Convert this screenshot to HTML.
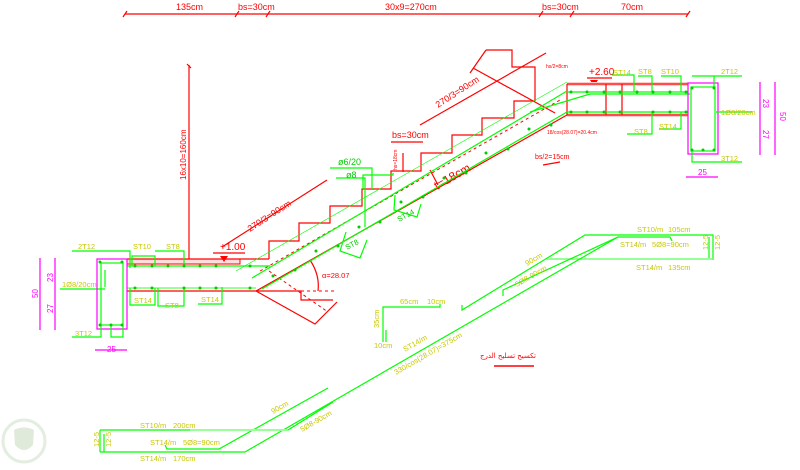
<!DOCTYPE html>
<html><head><meta charset="utf-8"><style>
html,body{margin:0;padding:0;background:#fff;}
svg{display:block;font-family:"Liberation Sans","Noto Sans CJK SC",sans-serif;}
.r{stroke:#f00;fill:none;stroke-width:1.2}
.g{stroke:#0f0;fill:none;stroke-width:1.2}
.m{stroke:#f0f;fill:none;stroke-width:1.2}
.rd{stroke:#f00;fill:none;stroke-width:1;stroke-dasharray:3,3}
.tr{fill:#f00;font-size:9px}
.ty{fill:#c8c800;font-size:7.5px}
.tg{fill:#0c0;font-size:7.5px}
.tm{fill:#f0f;font-size:8px}
.dot{fill:#0c0}
</style></head><body>
<svg width="800" height="470" viewBox="0 0 800 470">
<!-- top dimension -->
<line x1="125" y1="14" x2="688" y2="14" class="r"/>
<g class="r"><path d="M123,17l4,-6M235,17l4,-6M266,17l4,-6M539,17l4,-6M570,17l4,-6M686,17l4,-6"/></g>
<text x="176" y="10" class="tr">135cm</text>
<text x="238" y="10" class="tr">bs=30cm</text>
<text x="385" y="10" class="tr">30x9=270cm</text>
<text x="542" y="10" class="tr">bs=30cm</text>
<text x="621" y="10" class="tr">70cm</text>
<!-- vertical dim -->
<line x1="189" y1="65" x2="189" y2="262" class="r"/>
<path d="M187,64l4,4" class="r"/>
<text transform="translate(186,180) rotate(-90)" class="tr" style="font-size:8px">16x10=160cm</text>

<!-- lower landing -->
<rect x="127" y="259" width="113" height="5" fill="#fdd" stroke="#f00" stroke-width="1"/>
<line x1="127" y1="259" x2="269" y2="259" class="r"/>
<line x1="127" y1="291" x2="256" y2="291" class="r"/>
<!-- stairs -->
<polyline class="r" points="269,259 269,241 299,241 299,223 330,223 330,206 362,206 362,189 391,189 391,171 421,171 421,153 452,153 452,135 482,135 482,118 514,118 514,101 535,101"/>
<polyline class="r" points="486,50 512,50 512,67 535,67 535,101"/>
<line x1="473" y1="68" x2="555" y2="113" class="r"/>
<line x1="470" y1="73" x2="486" y2="50" class="r"/>
<line x1="420" y1="125" x2="546" y2="53" class="r"/>
<line x1="256" y1="291" x2="567" y2="115" class="r"/>
<line x1="260" y1="271" x2="560" y2="100" class="rd"/>
<!-- start detail -->
<polyline class="r" points="256,291 301,291 301,300 333,300"/>
<polyline class="r" points="256,291 315,324 337,302"/>
<line x1="269" y1="271" x2="328" y2="312" class="rd"/>
<line x1="301" y1="291" x2="334" y2="291" class="rd"/>
<path d="M310,260 Q320,275 318,291" class="r"/>
<!-- dimension 270/3 -->
<line x1="222" y1="247" x2="327" y2="180" class="r"/>
<text transform="translate(250,232) rotate(-33)" class="tr">270/3=90cm</text>
<text transform="translate(438,108) rotate(-33)" class="tr">270/3=90cm</text>
<line x1="391" y1="142" x2="423" y2="142" class="r"/>
<text x="392" y="138" class="tr">bs=30cm</text>
<text transform="translate(397,170) rotate(-90)" class="tr" style="font-size:5px">hs=18cm</text>
<line x1="403" y1="153" x2="403" y2="172" class="r"/>
<text transform="translate(437,190) rotate(-30)" class="tr" style="font-size:12px">t=18cm</text>
<line x1="430" y1="170" x2="438" y2="185" class="r"/>
<text x="322" y="278" class="tr" style="font-size:7.5px">α=28.07</text>
<!-- +1.00 -->
<text x="220" y="250" class="tr" style="font-size:10px">+1.00</text>
<path d="M220,256 L228,256 L224,262Z" fill="#f00"/>
<line x1="213" y1="253" x2="245" y2="253" class="r"/>
<!-- +2.60 -->
<text x="589" y="75" class="tr" style="font-size:10px">+2.60</text>
<path d="M590,80 L598,80 L594,86Z" fill="#f00"/>
<line x1="587" y1="78" x2="612" y2="78" class="r"/>
<text x="546" y="68" class="tr" style="font-size:5px">hs/2=8cm</text>
<text x="547" y="134" class="tr" style="font-size:5px">18/cos(28.07)=20.4cm</text>
<text x="535" y="159" class="tr" style="font-size:7px">bs/2=15cm</text>
<line x1="543" y1="165" x2="560" y2="162" class="r"/>
<!-- upper landing -->
<rect x="567" y="82" width="121" height="4" fill="#fcc"/>
<rect x="567" y="113" width="121" height="4" fill="#fcc"/>
<line x1="567" y1="84" x2="688" y2="84" class="r"/>
<line x1="567" y1="115" x2="688" y2="115" class="r"/>
<line x1="567" y1="84" x2="567" y2="115" class="r"/>
<line x1="606" y1="84" x2="606" y2="115" class="r"/>
<line x1="622" y1="84" x2="622" y2="115" class="r"/>

<!-- green bars in flight -->
<line class="g" x1="252" y1="278" x2="567" y2="91"/>
<line class="g" x1="262" y1="289" x2="567" y2="112"/>
<line class="g" x1="236" y1="271" x2="567" y2="82" style="stroke-width:0.6"/>
<polyline class="g" points="363,189 363,175 393,175 393,173"/>
<polyline class="g" points="330,168 372,168 372,189"/>
<polyline class="g" points="336,178 365,178 365,227"/>
<polyline class="g" points="395,195 394,210 417,217 421,204"/>
<polyline class="g" points="346,232 340,251 360,258 367,240"/>
<!-- lower landing green -->
<line class="g" x1="127" y1="266" x2="270" y2="266"/>
<line class="g" x1="127" y1="288" x2="256" y2="288" style="stroke-width:2;stroke:#9f9"/>
<polyline class="g" points="132,266 132,256 155,256 155,266"/>
<polyline class="g" points="72,251 130,251 130,268"/>
<polyline class="g" points="155,251 184,251 184,266"/>
<polyline class="g" points="130,288 130,305 155,305 155,288"/>
<polyline class="g" points="158,288 158,306 184,306 184,288"/>
<polyline class="g" points="198,304 222,304 222,287"/>
<line class="g" x1="60" y1="289" x2="105" y2="289"/>
<!-- left beam -->
<rect x="97" y="259" width="30" height="70" class="m"/>
<rect x="101" y="263" width="22" height="62" class="g"/>
<line class="g" x1="105" y1="270" x2="105" y2="287"/>
<polyline class="g" points="72,337 101,337 101,325"/>
<polyline class="g" points="111,325 111,337 123,337 123,325"/>
<line class="m" x1="95" y1="350" x2="127" y2="350"/>
<text x="107" y="352" class="tm">25</text>
<line class="m" x1="40" y1="258" x2="40" y2="330"/>
<line class="m" x1="55" y1="258" x2="55" y2="330"/>
<text transform="translate(38,298) rotate(-90)" class="tm">50</text>
<text transform="translate(53,282) rotate(-90)" class="tm">23</text>
<text transform="translate(53,313) rotate(-90)" class="tm">27</text>
<text x="78" y="249" class="ty">2T12</text>
<text x="133" y="249" class="ty">ST10</text>
<text x="166" y="249" class="ty">ST8</text>
<text x="62" y="287" class="ty">1Ø8/20cm</text>
<text x="134" y="303" class="ty">ST14</text>
<text x="165" y="308" class="ty">ST8</text>
<text x="201" y="302" class="ty">ST14</text>
<text x="75" y="336" class="ty">3T12</text>
<!-- right landing green -->
<line class="g" x1="567" y1="92" x2="688" y2="92"/>
<line class="g" x1="567" y1="112" x2="688" y2="112"/>
<polyline class="g" points="530,112 590,94 690,94"/>
<polyline class="g" points="612,75 634,75 634,92"/>
<polyline class="g" points="638,76 652,76 652,92"/>
<polyline class="g" points="661,76 681,76 681,92"/>
<polyline class="g" points="627,134 652,134 652,112"/>
<polyline class="g" points="659,129 681,129 681,112"/>
<rect x="688" y="83" width="30" height="71" class="m"/>
<rect x="691" y="87" width="24" height="64" class="g"/>
<polyline class="g" points="692,76 742,76"/>
<line class="g" x1="714" y1="76" x2="714" y2="87"/>
<polyline class="g" points="692,151 692,162 742,162"/>
<line class="g" x1="716" y1="112" x2="752" y2="112"/>
<line class="m" x1="686" y1="177" x2="718" y2="177"/>
<text x="698" y="175" class="tm">25</text>
<line class="m" x1="760" y1="82" x2="760" y2="155"/>
<line class="m" x1="775" y1="82" x2="775" y2="155"/>
<text transform="translate(763,99) rotate(90)" class="tm">23</text>
<text transform="translate(763,130) rotate(90)" class="tm">27</text>
<text transform="translate(780,112) rotate(90)" class="tm">50</text>
<text x="613" y="75" class="ty">ST14</text>
<text x="638" y="74" class="ty">ST8</text>
<text x="661" y="74" class="ty">ST10</text>
<text x="721" y="74" class="ty">2T12</text>
<text x="721" y="115" class="ty">1Ø8/20cm</text>
<text x="634" y="134" class="ty">ST8</text>
<text x="659" y="129" class="ty">ST14</text>
<text x="721" y="161" class="ty">3T12</text>
<!-- dots -->
<g class="dot">
<circle cx="135" cy="266" r="1.5"/><circle cx="152" cy="266" r="1.5"/><circle cx="168" cy="266" r="1.5"/><circle cx="184" cy="266" r="1.5"/><circle cx="200" cy="266" r="1.5"/><circle cx="216" cy="266" r="1.5"/><circle cx="250" cy="266" r="1.5"/>
<circle cx="135" cy="288" r="1.5"/><circle cx="152" cy="288" r="1.5"/><circle cx="184" cy="288" r="1.5"/><circle cx="200" cy="288" r="1.5"/><circle cx="216" cy="288" r="1.5"/><circle cx="250" cy="288" r="1.5"/>
<circle cx="100" cy="262" r="1.5"/><circle cx="122" cy="262" r="1.5"/><circle cx="100" cy="325" r="1.5"/><circle cx="111" cy="325" r="1.5"/><circle cx="122" cy="325" r="1.5"/>
<circle cx="273" cy="276" r="1.5"/><circle cx="316" cy="251" r="1.5"/><circle cx="359" cy="227" r="1.5"/><circle cx="401" cy="202" r="1.5"/><circle cx="444" cy="178" r="1.5"/><circle cx="486" cy="153" r="1.5"/><circle cx="529" cy="129" r="1.5"/>
<circle cx="295" cy="270" r="1.5"/><circle cx="338" cy="246" r="1.5"/><circle cx="380" cy="222" r="1.5"/><circle cx="423" cy="197" r="1.5"/><circle cx="466" cy="173" r="1.5"/><circle cx="508" cy="149" r="1.5"/><circle cx="551" cy="125" r="1.5"/>
<circle cx="571" cy="92" r="1.5"/><circle cx="587" cy="92" r="1.5"/><circle cx="604" cy="92" r="1.5"/><circle cx="620" cy="92" r="1.5"/><circle cx="637" cy="92" r="1.5"/><circle cx="653" cy="92" r="1.5"/><circle cx="670" cy="92" r="1.5"/><circle cx="686" cy="92" r="1.5"/>
<circle cx="571" cy="112" r="1.5"/><circle cx="587" cy="112" r="1.5"/><circle cx="604" cy="112" r="1.5"/><circle cx="620" cy="112" r="1.5"/><circle cx="653" cy="112" r="1.5"/><circle cx="670" cy="112" r="1.5"/><circle cx="686" cy="112" r="1.5"/>
<circle cx="692" cy="88" r="1.5"/><circle cx="714" cy="88" r="1.5"/><circle cx="692" cy="150" r="1.5"/><circle cx="703" cy="150" r="1.5"/><circle cx="714" cy="150" r="1.5"/>
</g>
<text transform="translate(399,222) rotate(-28)" class="tg">ST14</text>
<text transform="translate(347,250) rotate(-28)" class="tg">ST8</text>
<text x="338" y="165" class="tg" style="font-size:9px">ø6/20</text>
<text x="346" y="178" class="tg" style="font-size:9px">ø8</text>

<!-- bar bending: right shape -->
<polyline class="g" points="462,305 462,310 585,235 713,235 713,260"/>
<polyline class="g" points="547,259 713,259" style="stroke:#7f7;stroke-width:1.6"/>
<polyline class="g" points="503,296 503,290 618,237 670,237 672,241"/>
<line class="g" x1="709" y1="237" x2="709" y2="258"/>
<polyline class="g" points="0,468 245,452" style="display:none"/>
<text x="637" y="232" class="ty">ST10/m</text><text x="668" y="232" class="ty">105cm</text>
<text x="620" y="247" class="ty">ST14/m</text><text x="652" y="247" class="ty">5Ø8=90cm</text>
<text x="636" y="270" class="ty">ST14/m</text><text x="668" y="270" class="ty">135cm</text>
<text transform="translate(708,250) rotate(-90)" class="ty">12-5</text>
<text transform="translate(720,250) rotate(-90)" class="ty">12-5</text>
<text transform="translate(527,266) rotate(-30)" class="ty">90cm</text>
<text transform="translate(517,287) rotate(-30)" class="ty">5Ø8-90cm</text>
<!-- long bar -->
<polyline class="g" points="100,452 245,452 618,237"/>
<polyline class="g" points="100,430 288,430 333,402"/>
<line class="g" x1="100" y1="430" x2="100" y2="452"/>
<line class="g" x1="104" y1="434" x2="104" y2="452"/>
<polyline class="g" points="165,445 167,449 219,449 328,388"/>
<line class="g" x1="288" y1="430" x2="190" y2="430" style="stroke:#9f9;stroke-width:2"/>
<text x="140" y="428" class="ty">ST10/m</text><text x="173" y="428" class="ty">200cm</text>
<text x="150" y="445" class="ty">ST14/m</text><text x="183" y="445" class="ty">5Ø8=90cm</text>
<text x="140" y="461" class="ty">ST14/m</text><text x="173" y="461" class="ty">170cm</text>
<text transform="translate(99,447) rotate(-90)" class="ty">12-5</text>
<text transform="translate(111,447) rotate(-90)" class="ty">12-5</text>
<text transform="translate(273,414) rotate(-30)" class="ty">90cm</text>
<text transform="translate(302,432) rotate(-30)" class="ty">5Ø8-90cm</text>
<text transform="translate(405,352) rotate(-30)" class="ty">ST14/m</text>
<text transform="translate(396,375) rotate(-30)" class="ty">330/cos(28.07)=375cm</text>
<!-- 35cm shape -->
<polyline class="g" points="383,342 383,307 440,307 440,304"/>
<line class="g" x1="386" y1="342" x2="386" y2="330"/>
<text x="400" y="304" class="ty">65cm</text>
<text x="427" y="304" class="ty">10cm</text>
<text transform="translate(379,328) rotate(-90)" class="ty">35cm</text>
<text x="374" y="348" class="ty">10cm</text>
<!-- arabic title -->
<text x="480" y="358" class="tr" style="font-size:7px;font-family:'DejaVu Sans',sans-serif">تكسيح تسليح الدرج</text>
<line x1="494" y1="366" x2="534" y2="366" stroke="#f00" stroke-width="1.5"/>
<!-- logo -->
<circle cx="24" cy="441" r="21" fill="none" stroke="#e3eee0" stroke-width="3"/>
<path d="M14,430 Q24,425 34,430 L33,445 Q24,455 15,445Z" fill="#dfeadb"/>
</svg>
</body></html>
